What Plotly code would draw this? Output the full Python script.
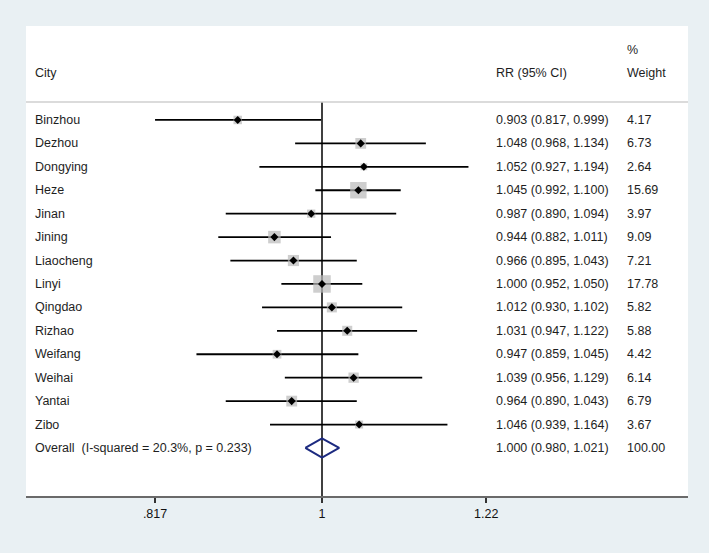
import plotly.graph_objects as go
import math

cities = ["Binzhou", "Dezhou", "Dongying", "Heze", "Jinan", "Jining", "Liaocheng",
          "Linyi", "Qingdao", "Rizhao", "Weifang", "Weihai", "Yantai", "Zibo"]
rr = [0.903, 1.048, 1.052, 1.045, 0.987, 0.944, 0.966, 1.000, 1.012, 1.031, 0.947, 1.039, 0.964, 1.046]
lo = [0.817, 0.968, 0.927, 0.992, 0.890, 0.882, 0.895, 0.952, 0.930, 0.947, 0.859, 0.956, 0.890, 0.939]
hi = [0.999, 1.134, 1.194, 1.100, 1.094, 1.011, 1.043, 1.050, 1.102, 1.122, 1.045, 1.129, 1.043, 1.164]
weight = [4.17, 6.73, 2.64, 15.69, 3.97, 9.09, 7.21, 17.78, 5.82, 5.88, 4.42, 6.14, 6.79, 3.67]

overall_label = "Overall\u00a0\u00a0(I-squared = 20.3%, p = 0.233)"
overall_rr, overall_lo, overall_hi, overall_w = 1.000, 0.980, 1.021, 100.00

tick_vals = [0.817, 1.0, 1.22]
tick_text = [".817", "1", "1.22"]

rows = list(range(len(cities)))
overall_row = len(cities)

FONT = "Liberation Sans, Arial, sans-serif"
TXT = "#1e1e1e"

fig = go.Figure()

# CI lines
cx, cy = [], []
for r, a, b in zip(rows, lo, hi):
    cx += [a, b, None]
    cy += [r, r, None]
fig.add_trace(go.Scatter(x=cx, y=cy, mode="lines", line=dict(color="black", width=1.8),
                         hoverinfo="skip", showlegend=False))

# weight squares
maxw = max(weight)
sizes = [17.5 * math.sqrt(w / maxw) for w in weight]
fig.add_trace(go.Scatter(x=rr, y=rows, mode="markers",
                         marker=dict(symbol="square", size=sizes, color="#b9b9b9", line=dict(width=0)),
                         showlegend=False))
# point estimates
fig.add_trace(go.Scatter(x=rr, y=rows, mode="markers",
                         marker=dict(symbol="diamond", size=6.2, color="black", line=dict(width=0)),
                         showlegend=False))

# overall diamond
h = 0.41
fig.add_trace(go.Scatter(
    x=[overall_lo, overall_rr, overall_hi, overall_rr, overall_lo],
    y=[overall_row, overall_row - h, overall_row, overall_row + h, overall_row],
    mode="lines", line=dict(color="#1c2a80", width=2), showlegend=False))

# vertical null line
fig.add_shape(type="line", xref="x", yref="y", x0=1, x1=1, y0=-0.77, y1=16.05,
              line=dict(color="black", width=1.5), layer="below")
# header separator
fig.add_shape(type="line", xref="paper", yref="y", x0=0, x1=1, y0=-0.77, y1=-0.77,
              line=dict(color="#cfcfcf", width=1.5))

W, H = 709, 553
L, R, T, B = 26, 688, 26, 496
pw = R - L


def px(xpix):
    return (xpix - L) / pw


def txt(x, y, s):
    fig.add_annotation(x=px(x), y=y, xref="paper", yref="y", text=s, showarrow=False,
                       xanchor="left", yanchor="middle",
                       font=dict(family=FONT, size=12.5, color=TXT), borderpad=0)


txt(34, -2, "City")
txt(495, -2, "RR (95% CI)")
txt(626, -3, "%")
txt(626, -2, "Weight")
for r, c, a, b, e, w in zip(rows, cities, lo, hi, rr, weight):
    txt(34, r, c)
    txt(495, r, f"{e:.3f} ({a:.3f}, {b:.3f})")
    txt(626, r, f"{w:.2f}")
txt(34, overall_row, overall_label)
txt(495, overall_row, f"{overall_rr:.3f} ({overall_lo:.3f}, {overall_hi:.3f})")
txt(626, overall_row, f"{overall_w:.2f}")

ppl = 1902.0  # pixels per log10 unit
xmin = (L - 322) / ppl
xmax = (R - 322) / ppl

fig.update_layout(
    width=W, height=H,
    margin=dict(l=L, r=W - R, t=T, b=H - B, pad=0),
    paper_bgcolor="#e9f0f3", plot_bgcolor="white",
    showlegend=False,
    xaxis=dict(type="log", range=[xmin, xmax], tickvals=tick_vals, ticktext=tick_text,
               showgrid=False, zeroline=False, showline=True, linecolor="#6a6a6a", linewidth=2,
               ticks="outside", ticklen=5, tickwidth=1.5, tickcolor="#333",
               tickfont=dict(family=FONT, size=12.5, color="#111111"), fixedrange=True),
    yaxis=dict(range=[16.05, -4.01], visible=False, showgrid=False, zeroline=False, fixedrange=True),
)

fig.write_html("out.html", config={"displayModeBar": False},
               post_script="document.body.style.margin='0px';document.body.style.padding='0px';")
